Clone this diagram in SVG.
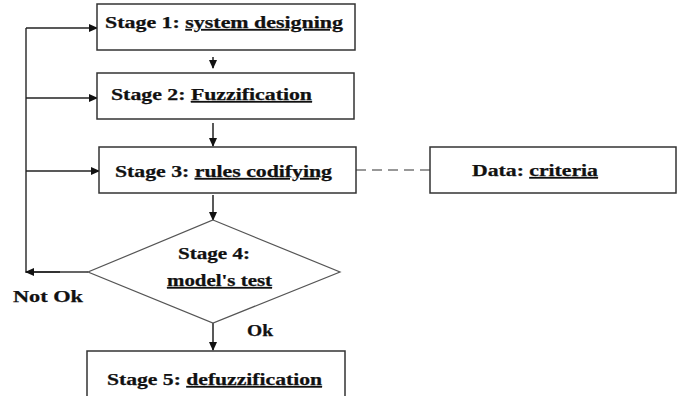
<svg xmlns="http://www.w3.org/2000/svg" width="677" height="396" viewBox="0 0 677 396">
<defs>
<marker id="ah" markerWidth="9" markerHeight="9" refX="8" refY="4.5" orient="auto" markerUnits="userSpaceOnUse">
<path d="M0,0.5 L9,4.5 L0,8.5 Z" fill="#111"/>
</marker>
<style>
.box{fill:#fff;stroke:#333;stroke-width:1.5}
.dia{fill:#fff;stroke:#555;stroke-width:1.2}
.ln{stroke:#333;stroke-width:1.5;fill:none}
.ar{stroke:#222;stroke-width:1.5;fill:none;marker-end:url(#ah)}
.dash{stroke:#777;stroke-width:1.5;stroke-dasharray:10 6;fill:none}
.t{font-family:"Liberation Serif","Times New Roman",serif;font-weight:bold;font-size:16px;fill:#111;stroke:#111;stroke-width:0.25}
.u{text-decoration:underline}
</style>
</defs>
<rect width="677" height="396" fill="#fff"/>
<g id="connectors">
<polyline class="ln" points="88,272 26,272 26,28"/>
<line class="ar" x1="26" y1="28" x2="97" y2="28"/>
<line class="ar" x1="26" y1="98" x2="97" y2="98"/>
<line class="ar" x1="26" y1="171" x2="99" y2="171"/>
<line class="ar" x1="60" y1="272" x2="26" y2="272"/>
<line class="ar" x1="213" y1="57" x2="213" y2="68"/>
<line class="ar" x1="213" y1="123" x2="213" y2="146"/>
<line class="ar" x1="213" y1="195" x2="213" y2="220"/>
<line class="ar" x1="213" y1="323" x2="213" y2="350"/>
<line class="dash" x1="356" y1="170" x2="430" y2="170"/>
</g>
<g id="stage1">
<rect class="box" x="97" y="4" width="258" height="46"/>
<text class="t" x="105" y="28" textLength="238" lengthAdjust="spacingAndGlyphs">Stage  1: <tspan class="u">system designing</tspan></text>
</g>
<g id="stage2">
<rect class="box" x="97" y="73" width="257" height="46"/>
<text class="t" x="111" y="100" textLength="201" lengthAdjust="spacingAndGlyphs">Stage 2: <tspan class="u">Fuzzification</tspan></text>
</g>
<g id="stage3">
<rect class="box" x="99" y="147" width="257" height="46"/>
<text class="t" x="115" y="177" textLength="217" lengthAdjust="spacingAndGlyphs">Stage 3: <tspan class="u">rules codifying</tspan></text>
</g>
<g id="data">
<rect class="box" x="430" y="147" width="246" height="46"/>
<text class="t" x="472" y="176" textLength="126" lengthAdjust="spacingAndGlyphs">Data: <tspan class="u">criteria</tspan></text>
</g>
<g id="stage4">
<polygon class="dia" points="213,220 340,272 213,323 88,272"/>
<text class="t" x="178" y="259" textLength="72" lengthAdjust="spacingAndGlyphs">Stage 4:</text>
<text class="t u" x="167" y="286" textLength="105" lengthAdjust="spacingAndGlyphs">model's test</text>
</g>
<g id="labels">
<text class="t" x="13" y="302" textLength="70" lengthAdjust="spacingAndGlyphs">Not Ok</text>
<text class="t" x="247" y="336" textLength="26" lengthAdjust="spacingAndGlyphs">Ok</text>
</g>
<g id="stage5">
<rect class="box" x="87" y="351" width="258" height="60"/>
<text class="t" x="107" y="385" textLength="215" lengthAdjust="spacingAndGlyphs">Stage 5: <tspan class="u">defuzzification</tspan></text>
</g>
</svg>
